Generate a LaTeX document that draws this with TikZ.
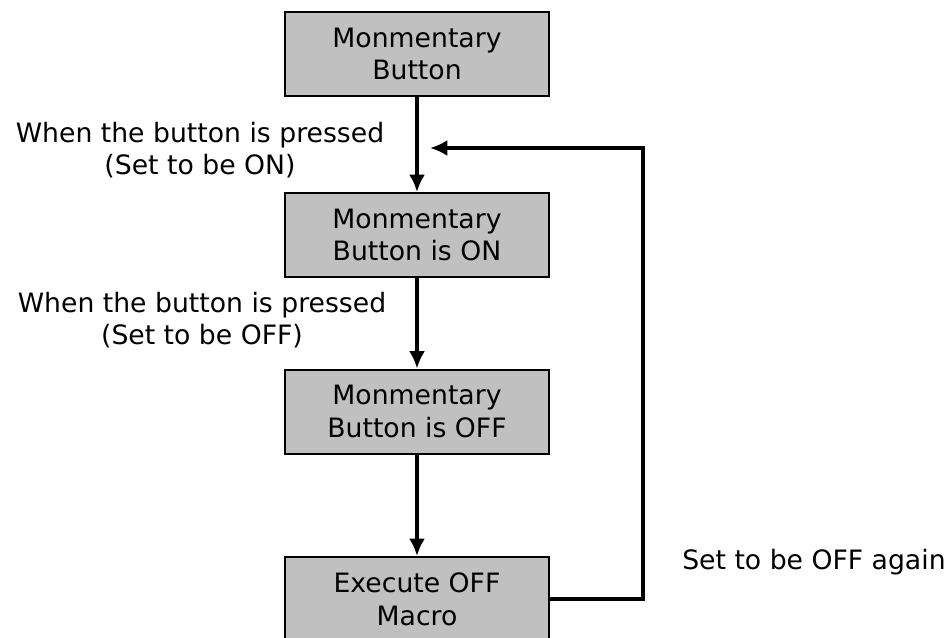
\documentclass[tikz,border=0pt]{standalone}
\usepackage{fontspec}
\setmainfont{DejaVu Sans}
\usepackage{tikz}
\usetikzlibrary{
  % enables the Latex tips with sizes
  arrows.meta,%
  calc,%
  positioning
}
\definecolor{boxgray}{RGB}{192,192,192}
\tikzset{>={Latex[length=13pt, width=12pt]}}
\tikzset{font=\fontsize{20}{24.5}\selectfont}
\tikzset{statebox/.style={draw, line width=1.5pt, fill=boxgray, align=center,
    minimum width=198pt, minimum height=63pt, inner sep=0pt},
  flowline/.style={->, line width=2.4pt},
  note/.style={align=center, inner sep=0pt}}

\begin{document}
\begin{tikzpicture}[x=0.75pt, y=-0.75pt]
  \useasboundingbox (0, 0) rectangle (952, 637); %
  \node[statebox] (btn) at (417, 54) {Monmentary\\Button}; %
  \node[statebox] (on) at (417, 235) {Monmentary\\Button is ON}; %
  \node[statebox] (off) at (417, 411.5) {Monmentary\\Button is OFF}; %
  \node[statebox] (macro) at (417, 599) {Execute OFF\\Macro}; %
  \node[note] (presson) at (200, 150) {When the button is pressed\\(Set to be ON)}; %
  \node[note] (pressoff) at (202, 320) {When the button is pressed\\(Set to be OFF)}; %
  \node[note, anchor=west] (again) at (682, 562) {Set to be OFF again}; %
  \coordinate (back) at (430, 148); %
  \draw[flowline] (btn) -- (on); %
  \draw[flowline] (on) -- (off); %
  \draw[flowline] (off) -- (macro); %
  \draw[flowline] (macro.east) -- (643, 599) |- (back); %
\end{tikzpicture}
\end{document}
